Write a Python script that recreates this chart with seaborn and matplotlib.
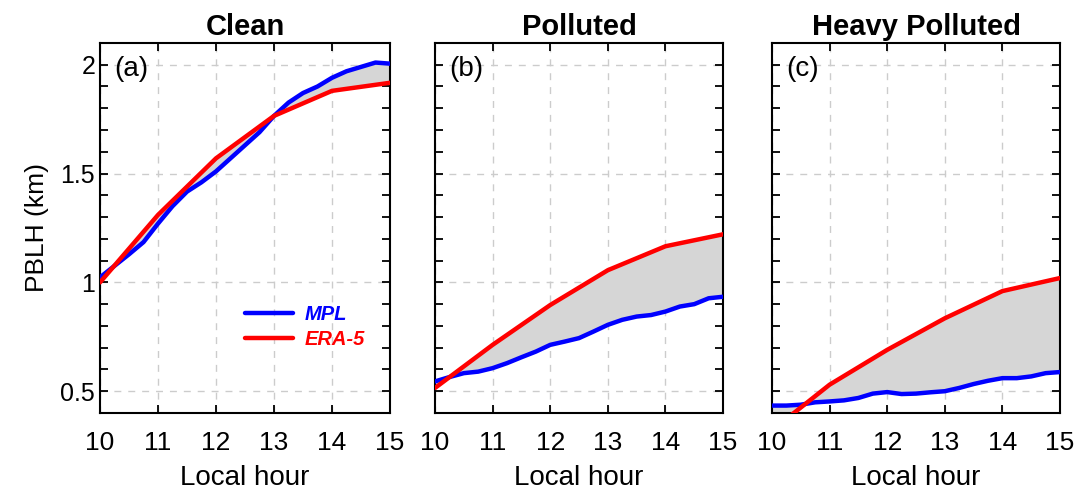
import numpy as np
import pandas as pd
import matplotlib
matplotlib.use("Agg")
import matplotlib.pyplot as plt
import seaborn as sns
from matplotlib.ticker import MultipleLocator

# ---- data -------------------------------------------------------------
panel_titles = ["Clean", "Polluted", "Heavy Polluted"]
panel_tags = ["(a)", "(b)", "(c)"]

# MPL retrievals, every 15 min
mpl_hours = [10.0, 10.25, 10.5, 10.75, 11.0, 11.25, 11.5, 11.75, 12.0, 12.25, 12.5,
             12.75, 13.0, 13.25, 13.5, 13.75, 14.0, 14.25, 14.5, 14.75, 15.0]
mpl_clean = [1.023, 1.076, 1.129, 1.185, 1.27, 1.35, 1.417, 1.46, 1.51, 1.57, 1.63,
             1.69, 1.765, 1.826, 1.87, 1.90, 1.94, 1.97, 1.99, 2.01, 2.005]
mpl_polluted = [0.545, 0.565, 0.583, 0.59, 0.606, 0.629, 0.656, 0.682, 0.713, 0.728, 0.744,
                0.774, 0.805, 0.828, 0.843, 0.85, 0.866, 0.889, 0.90, 0.927, 0.934]
mpl_heavy = [0.434, 0.434, 0.438, 0.449, 0.453, 0.458, 0.469, 0.489, 0.496, 0.487, 0.489,
             0.495, 0.50, 0.515, 0.533, 0.548, 0.56, 0.56, 0.568, 0.583, 0.588]

# ERA-5 reanalysis, hourly
era_hours = [10, 11, 12, 13, 14, 15]
era_clean = [1.0, 1.31, 1.57, 1.765, 1.88, 1.917]
era_polluted = [0.515, 0.713, 0.896, 1.056, 1.166, 1.221]
era_heavy = [0.32, 0.53, 0.69, 0.835, 0.96, 1.02]

mpl_series = [mpl_clean, mpl_polluted, mpl_heavy]
era_series = [era_clean, era_polluted, era_heavy]

# ---- style ------------------------------------------------------------
sns.set_theme(style="ticks")
plt.rcParams["font.family"] = ["Liberation Sans", "DejaVu Sans"]
for key in ["text.color", "axes.labelcolor", "xtick.color", "ytick.color",
            "xtick.labelcolor", "ytick.labelcolor"]:
    plt.rcParams[key] = "black"
narrow = ["Liberation Sans Narrow", "Liberation Sans", "DejaVu Sans"]

fig = plt.figure(figsize=(10.8, 4.95), dpi=100)
fig.patch.set_facecolor("white")

lefts = [0.0926, 0.4028, 0.7148]
widths = [0.2685, 0.2667, 0.2667]
bottom, height = 0.1657, 0.7475

for i in range(3):
    ax = fig.add_axes([lefts[i], bottom, widths[i], height])
    ax.set_facecolor("white")

    df_mpl = pd.DataFrame({"hour": mpl_hours, "pblh": mpl_series[i]})
    df_era = pd.DataFrame({"hour": era_hours, "pblh": era_series[i]})

    # shaded gap between the two estimates
    poly_x = np.concatenate([np.asarray(mpl_hours), np.asarray(era_hours)[::-1]])
    poly_y = np.concatenate([np.asarray(mpl_series[i]), np.asarray(era_series[i])[::-1]])
    ax.fill(poly_x, poly_y, color="#d6d6d6", lw=0, zorder=1)

    sns.lineplot(data=df_mpl, x="hour", y="pblh", ax=ax, color="#0000ff",
                 lw=3.2, label="MPL", zorder=3)
    sns.lineplot(data=df_era, x="hour", y="pblh", ax=ax, color="#ff0000",
                 lw=3.2, label="ERA-5", zorder=3)

    ax.set_xlim(10, 15)
    ax.set_ylim(0.4, 2.1)
    ax.xaxis.set_major_locator(MultipleLocator(1))
    ax.yaxis.set_major_locator(MultipleLocator(0.5))
    ax.yaxis.set_minor_locator(MultipleLocator(0.1))
    ax.grid(True, which="major", ls=(0, (5, 5)), color="#cccccc", lw=1.0, zorder=0)

    ax.tick_params(which="both", direction="in", top=True, right=True,
                   length=5.5, width=1.3, color="black", labelcolor="black")
    ax.tick_params(axis="x", pad=13)
    ax.set_xticks([10, 11, 12, 13, 14, 15])
    ax.set_xticklabels(["10", "11", "12", "13", "14", "15"], family=narrow, fontsize=19)

    ax.set_yticks([0.5, 1.0, 1.5, 2.0])
    if i == 0:
        ax.set_yticklabels(["0.5", "1", "1.5", "2"], fontsize=18)
        ax.set_ylabel("PBLH (km)", fontsize=19, labelpad=8)
    else:
        ax.set_yticklabels([])
        ax.set_ylabel("")

    ax.set_xlabel("Local hour", family=narrow, fontsize=20, labelpad=7)
    ax.set_title(panel_titles[i], fontsize=21, fontweight="bold", pad=6)
    ax.text(0.05, 0.965, panel_tags[i], transform=ax.transAxes, ha="left", va="top",
            fontsize=20, zorder=5)

    for sp in ax.spines.values():
        sp.set_color("black")
        sp.set_linewidth(1.5)

    if i == 0:
        leg = ax.legend(loc="lower right", bbox_to_anchor=(0.975, 0.125), frameon=False,
                        handlelength=2.4, handletextpad=0.55, labelspacing=0.3,
                        prop={"size": 14.5, "weight": "bold", "style": "italic"})
        for txt, col in zip(leg.get_texts(), ["#0000ff", "#ff0000"]):
            txt.set_color(col)
        for ln in leg.get_lines():
            ln.set_linewidth(3.2)
    else:
        if ax.get_legend() is not None:
            ax.get_legend().remove()

fig.savefig("out.png", dpi=100, facecolor="white")
